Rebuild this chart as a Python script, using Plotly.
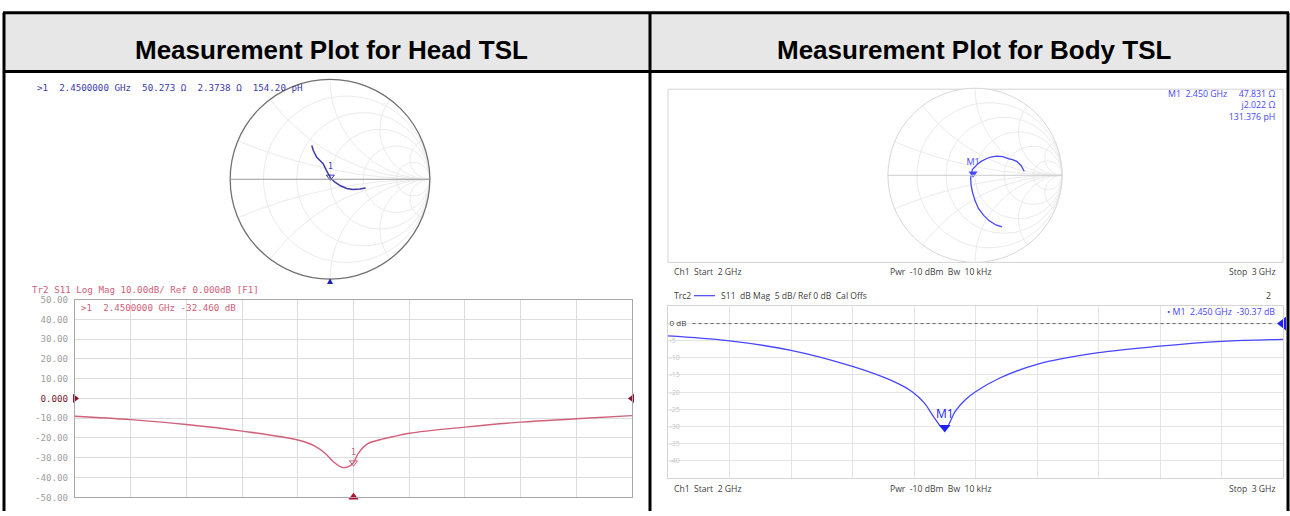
import numpy as np
import plotly.graph_objects as go

W, H = 1290, 516

# ---------------- data ----------------
titles = ["Measurement Plot for Head TSL", "Measurement Plot for Body TSL"]

# Head TSL: reflection coefficient
head_gamma_re = [-0.183, -0.167, -0.133, -0.10, -0.067, -0.04, -0.017, 0.007, 0.05, 0.10, 0.167, 0.233, 0.30, 0.357]
head_gamma_im = [0.337, 0.287, 0.22, 0.187, 0.153, 0.097, 0.053, 0.01, -0.03, -0.063, -0.093, -0.103, -0.097, -0.087]
head_marker_R, head_marker_X, Z0 = 50.273, 2.3738, 50.0

# Head TSL: S11 log magnitude
head_f = [1.95, 2.05, 2.15, 2.25, 2.35, 2.38, 2.40, 2.415, 2.43, 2.44, 2.45, 2.458, 2.475, 2.50, 2.52, 2.55, 2.65, 2.75, 2.85, 2.95]
head_db = [-9.0, -10.7, -13.2, -16.5, -21.0, -24.0, -28.0, -32.3, -34.9, -34.6, -32.5, -28.0, -23.0, -20.7, -19.4, -17.6, -14.5, -12.0, -10.3, -8.7]
head_mk_f, head_mk_db = 2.45, -32.46
head_yticks = [50, 40, 30, 20, 10, 0, -10, -20, -30, -40, -50]
head_yticktext = ["50.00", "40.00", "30.00", "20.00", "10.00", "0.000", "-10.00", "-20.00", "-30.00", "-40.00", "-50.00"]

# Body TSL: reflection coefficient
body_gamma_re = [0.565, 0.53, 0.48, 0.43, 0.39, 0.32, 0.25, 0.18, 0.13, 0.07, 0.02, -0.03, -0.05, -0.045, -0.03, 0.0, 0.04, 0.10, 0.16, 0.24, 0.31]
body_gamma_im = [0.047, 0.11, 0.16, 0.18, 0.19, 0.215, 0.22, 0.21, 0.19, 0.16, 0.12, 0.066, -0.03, -0.11, -0.19, -0.29, -0.38, -0.46, -0.52, -0.57, -0.593]
body_marker_R, body_marker_X = 47.831, 2.022

# Body TSL: S11 dB magnitude
body_f = [2.0, 2.097, 2.2, 2.3, 2.363, 2.397, 2.417, 2.433, 2.447, 2.453, 2.467, 2.483, 2.5, 2.537, 2.6, 2.7, 2.8, 2.9, 3.0]
body_db = [-3.6, -5.0, -7.8, -12.5, -16.6, -19.9, -23.2, -27.5, -30.6, -30.4, -25.6, -22.3, -19.9, -16.1, -11.9, -8.5, -6.6, -5.2, -4.6]
body_mk_f, body_mk_db = 2.45, -30.37
body_yticks = [5, 0, -5, -10, -15, -20, -25, -30, -35, -40, -45]
body_yticktext = ["5", "0 dB", "-5", "-10", "-15", "-20", "-25", "-30", "-35", "-40", "-45"]


def px(x):
    return x / W


def py(y):
    return 1 - y / H


def g2z(gr, gi):
    g = np.array(gr) + 1j * np.array(gi)
    z = (1 + g) / (1 - g)
    return z.real, z.imag


MONO = "DejaVu Sans Mono"
SANS = "Open Sans"
HEAD_BLUE = "#3c3ca8"
HEAD_RED = "#d0607a"
BODY_BLUE = "#4646ff"

fig = go.Figure()

# ---------- Head Smith ----------
hz_r, hz_i = g2z(head_gamma_re, head_gamma_im)
fig.add_trace(go.Scattersmith(real=hz_r, imag=hz_i, mode="lines", subplot="smith",
                              line=dict(color=HEAD_BLUE, width=1.5), showlegend=False))
fig.add_trace(go.Scattersmith(real=[head_marker_R / Z0], imag=[head_marker_X / Z0], subplot="smith",
                              mode="markers+text", text=["1"], textposition="top center",
                              textfont=dict(family=MONO, size=8, color=HEAD_BLUE),
                              marker=dict(symbol="triangle-down-open", size=7, color=HEAD_BLUE),
                              showlegend=False))

# ---------- Body Smith ----------
bz_r, bz_i = g2z(body_gamma_re, body_gamma_im)
fig.add_trace(go.Scattersmith(real=bz_r, imag=bz_i, mode="lines", subplot="smith2",
                              line=dict(color=BODY_BLUE, width=1.3), showlegend=False))
fig.add_trace(go.Scattersmith(real=[body_marker_R / Z0], imag=[body_marker_X / Z0], subplot="smith2",
                              mode="markers+text", text=["M1"], textposition="top center",
                              textfont=dict(family=SANS, size=9, color=BODY_BLUE),
                              marker=dict(symbol="triangle-down", size=8, color=BODY_BLUE),
                              showlegend=False))

# ---------- Head log mag ----------
fig.add_trace(go.Scatter(x=head_f, y=head_db, mode="lines", line=dict(color=HEAD_RED, width=1.4, shape="spline"),
                         xaxis="x", yaxis="y", showlegend=False))
fig.add_trace(go.Scatter(x=[head_mk_f], y=[head_mk_db], mode="markers+text", text=["1"], textposition="top center",
                         textfont=dict(family=MONO, size=8, color=HEAD_RED),
                         marker=dict(symbol="triangle-down-open", size=7, color=HEAD_RED),
                         xaxis="x", yaxis="y", showlegend=False))
# reference-level and marker indicators
fig.add_trace(go.Scatter(x=[1.95, 2.95], y=[0, 0], mode="markers", cliponaxis=False,
                         marker=dict(symbol=["triangle-right", "triangle-left"], size=8, color="#8a1030"),
                         xaxis="x", yaxis="y", showlegend=False))
fig.add_trace(go.Scatter(x=[head_mk_f], y=[-50], mode="markers", cliponaxis=False,
                         marker=dict(symbol="triangle-up", size=9, color="#b01030"),
                         xaxis="x", yaxis="y", showlegend=False))

# ---------- Body log mag ----------
fig.add_trace(go.Scatter(x=body_f, y=body_db, mode="lines", line=dict(color=BODY_BLUE, width=1.3, shape="spline"),
                         xaxis="x2", yaxis="y2", showlegend=False))
fig.add_trace(go.Scatter(x=[body_mk_f], y=[body_mk_db], mode="markers", cliponaxis=False,
                         marker=dict(symbol="triangle-down", size=10, color="#2020ff"),
                         xaxis="x2", yaxis="y2", showlegend=False))
fig.add_trace(go.Scatter(x=[3.0], y=[0], mode="markers", cliponaxis=False,
                         marker=dict(symbol="triangle-left", size=12, color="#2020ff"),
                         xaxis="x2", yaxis="y2", showlegend=False))

smith_ticks_r = [0.2, 0.5, 1, 2, 5]
smith_ticks_x = [-5, -2, -1, -0.5, -0.2, 0.2, 0.5, 1, 2, 5]

annotations = []


def txt(x, y, s, color, size, family, xanchor="left", yanchor="middle", bold=False, align="left"):
    if bold:
        s = "<b>" + s + "</b>"
    annotations.append(dict(x=px(x), y=py(y), xref="paper", yref="paper", text=s, showarrow=False,
                            xanchor=xanchor, yanchor=yanchor, align=align,
                            font=dict(color=color, size=size, family=family)))


# header titles
txt(331, 45, titles[0], "#000000", 26, "Liberation Sans", "center", bold=True)
txt(974, 45, titles[1], "#000000", 26, "Liberation Sans", "center", bold=True)

# Head texts
txt(35, 83, ">1  2.4500000 GHz  50.273 Ω  2.3738 Ω  154.20 pH", HEAD_BLUE, 9.2, MONO)
txt(30, 290, "Tr2 S11 Log Mag 10.00dB/ Ref 0.000dB [F1]", HEAD_RED, 9.2, MONO)
txt(79, 308, ">1  2.4500000 GHz -32.460 dB", HEAD_RED, 9.2, MONO)
txt(330, 280, "▲", "#2020b0", 10, SANS, "center")

# Body texts
txt(1277, 82, "M1  2.450 GHz     47.831 Ω<br>j2.022 Ω<br>131.376 pH", BODY_BLUE, 8.8, SANS,
    "right", "top", align="right")
for yy in (272, 494):
    txt(672, yy, "Ch1  Start  2 GHz", "#404040", 8.6, SANS)
    txt(940, yy, "Pwr  -10 dBm  Bw  10 kHz", "#404040", 8.6, SANS, "center")
    txt(1277, yy, "Stop  3 GHz", "#404040", 8.6, SANS, "right")
txt(672, 296, "Trc2", "#404040", 8.6, SANS)
txt(719, 296, "S11  dB Mag  5 dB/ Ref 0 dB  Cal Offs", "#404040", 8.6, SANS)
txt(1273, 296, "2", "#404040", 8.6, SANS, "right")
txt(1277, 313, "• M1  2.450 GHz  -30.37 dB", BODY_BLUE, 8.8, SANS, "right")

# body marker label on log mag (anchored on data)
annotations.append(dict(x=body_mk_f, y=body_mk_db, xref="x2", yref="y2", text="M1", showarrow=False,
                        yanchor="bottom", yshift=4, font=dict(color="#2020ff", size=12, family=SANS)))

shapes = []


def line(x0, y0, x1, y1, color="#000000", width=3, dash="solid"):
    shapes.append(dict(type="line", xref="paper", yref="paper", x0=px(x0), y0=py(y0), x1=px(x1), y1=py(y1),
                       line=dict(color=color, width=width, dash=dash)))


def rect(x0, y0, x1, y1, fill=None, color=None, width=1, layer="below"):
    shapes.append(dict(type="rect", xref="paper", yref="paper", x0=px(x0), y0=py(y0), x1=px(x1), y1=py(y1),
                       fillcolor=fill if fill else "rgba(0,0,0,0)",
                       line=dict(color=color if color else "rgba(0,0,0,0)", width=width), layer=layer))


rect(4, 7, 1288, 67, fill="#e7e7e7")
line(3, 7, 1289, 7)
line(3, 67, 1289, 67)
line(4, 7, 4, 516)
line(650, 7, 650, 516)
line(1288, 7, 1288, 516)
rect(668, 85, 1283, 262, color="#d4d4d4", width=1)
line(694, 296, 715, 296, color=BODY_BLUE, width=1.2)
# 0 dB reference line (dotted)
shapes.append(dict(type="line", xref="x2 domain", yref="y2", x0=0.04, x1=0.985, y0=0, y1=0,
                   line=dict(color="#606060", width=1, dash="dot")))

fig.update_layout(
    width=W, height=H, autosize=False,
    margin=dict(l=0, r=0, t=0, b=0),
    paper_bgcolor="white", plot_bgcolor="white",
    showlegend=False,
    annotations=annotations, shapes=shapes,
    smith=dict(
        domain=dict(x=[px(228), px(432)], y=[py(279), py(75)]),
        bgcolor="white",
        realaxis=dict(tickvals=smith_ticks_r, showticklabels=False, gridcolor="#ebebeb", gridwidth=1,
                      linecolor="#9a9a9a", linewidth=1.2, ticks=""),
        imaginaryaxis=dict(tickvals=smith_ticks_x, showticklabels=False, gridcolor="#ebebeb", gridwidth=1,
                           linecolor="#707070", linewidth=1.3, ticks=""),
    ),
    smith2=dict(
        domain=dict(x=[px(886), px(1064)], y=[py(262), py(84)]),
        bgcolor="white",
        realaxis=dict(tickvals=smith_ticks_r, showticklabels=False, gridcolor="#ebebeb", gridwidth=1,
                      linecolor="#cccccc", linewidth=1, ticks=""),
        imaginaryaxis=dict(tickvals=smith_ticks_x, showticklabels=False, gridcolor="#ebebeb", gridwidth=1,
                           linecolor="#d8d8d8", linewidth=1, ticks=""),
    ),
    xaxis=dict(domain=[px(75), px(632)], range=[1.95, 2.95], anchor="y", showticklabels=False,
               tickvals=[1.95 + 0.1 * k for k in range(11)], showgrid=True, gridcolor="#dcdcdc",
               showline=True, mirror=True, linecolor="#a8a8a8", zeroline=False, ticks=""),
    yaxis=dict(domain=[py(502), py(300)], range=[-50, 50], anchor="x", tickvals=head_yticks,
               ticktext=[("<span style='color:#7a2030'>%s</span>" % t) if t == "0.000" else t
                         for t in head_yticktext],
               tickfont=dict(family=MONO, size=9.2, color="#a0a0a0"),
               showgrid=True, gridcolor="#dcdcdc", showline=True, mirror=True, linecolor="#a8a8a8",
               zeroline=False, ticks="", ticklabelstandoff=4),
    xaxis2=dict(domain=[px(668), px(1283)], range=[2.0, 3.0], anchor="y2", showticklabels=False,
                tickvals=[2.0 + 0.1 * k for k in range(11)], showgrid=True, gridcolor="#e4e4e4",
                showline=True, mirror=True, linecolor="#d4d4d4", zeroline=False, ticks=""),
    yaxis2=dict(domain=[py(482), py(307)], range=[-45, 5], anchor="x2", tickvals=body_yticks,
                ticktext=[("<span style='color:#404040;font-size:8px'>%s</span>" % t) if t == "0 dB" else t
                          for t in body_yticktext],
                ticklabelposition="inside",
                tickfont=dict(family=SANS, size=7, color="#c4c4c4"),
                showgrid=True, gridcolor="#e4e4e4", showline=True, mirror=True, linecolor="#d4d4d4",
                zeroline=False, ticks=""),
)

fig.write_html("out.html", config={"displayModeBar": False},
               post_script="document.body.style.margin='0';document.body.style.padding='0';"
                           "document.documentElement.style.overflow='hidden';")
